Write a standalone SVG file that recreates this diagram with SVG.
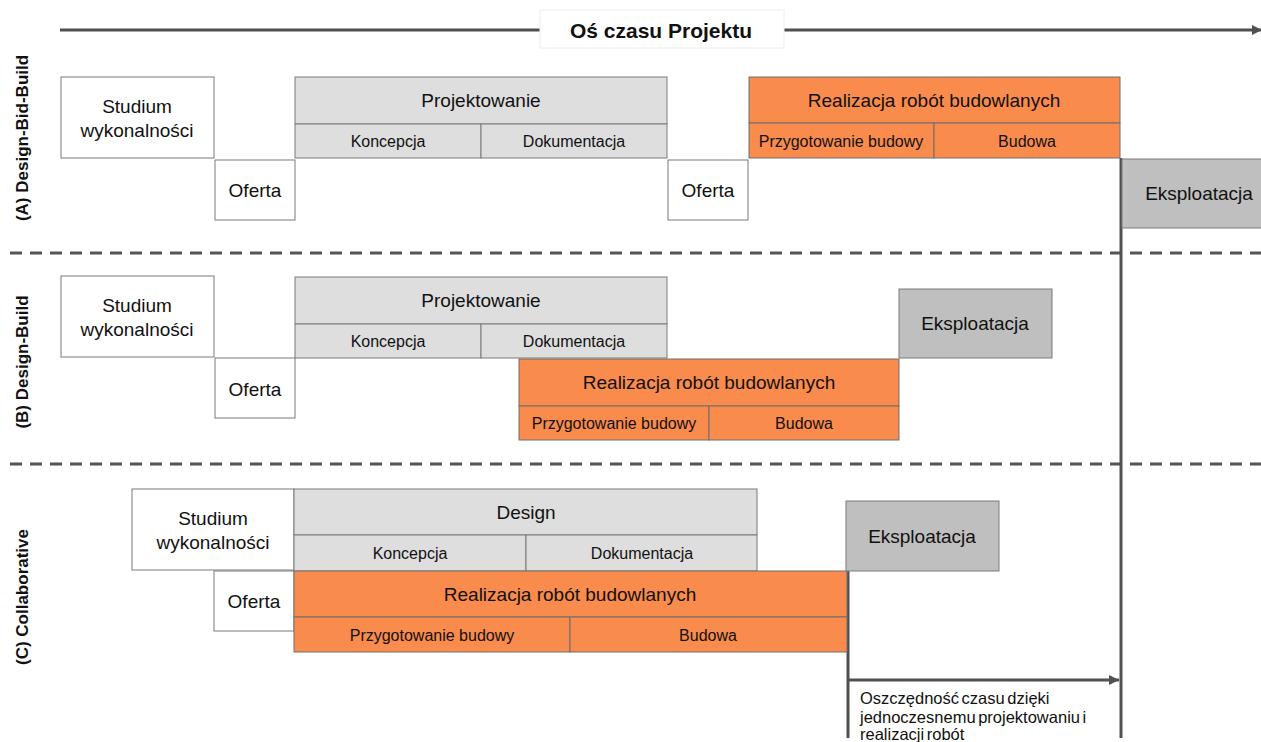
<svg xmlns="http://www.w3.org/2000/svg" width="1261" height="742" viewBox="0 0 1261 742">
<style>
text{font-family:"Liberation Sans",Arial,sans-serif;fill:#111;text-anchor:middle;dominant-baseline:central}
.w{fill:#fff;stroke:#7a7a7a;stroke-width:1}
.g{fill:#dedede;stroke:#7a7a7a;stroke-width:1}
.o{fill:#f98b4c;stroke:#6e6e6e;stroke-width:1}
.e{fill:#bfbfbf;stroke:#7a7a7a;stroke-width:1}
.t17{font-size:19px}
.t14{font-size:16px}
.side{font-size:17px;font-weight:bold}
.note{font-size:16.5px;text-anchor:start;dominant-baseline:auto;word-spacing:-2px}
.dash{stroke:#555;stroke-width:3;stroke-dasharray:12 8;fill:none}
.ln{stroke:#505050;stroke-width:3;fill:none}
</style>
<defs>
<marker id="ah" markerWidth="10" markerHeight="10" refX="10" refY="5" orient="auto" markerUnits="userSpaceOnUse">
<path d="M0,0 L10,5 L0,10 z" fill="#505050"/>
</marker>
</defs>
<rect width="1261" height="742" fill="#fff"/>

<g id="connectors">
<line class="ln" x1="60" y1="30" x2="1262" y2="30" marker-end="url(#ah)"/>
<line class="dash" x1="10" y1="253" x2="1261" y2="253"/>
<line class="dash" x1="10" y1="464" x2="1261" y2="464"/>
<line class="ln" x1="1121" y1="158" x2="1121" y2="738"/>
<line class="ln" x1="848" y1="571" x2="848" y2="738"/>
<line class="ln" x1="848" y1="680" x2="1119" y2="680" marker-end="url(#ah)"/>
</g>

<g id="axis-label">
<rect x="540" y="10" width="244" height="38" fill="#fff" stroke="#eee" stroke-width="1"/>
<text x="661" y="30" style="font-size:21px;font-weight:bold">Oś czasu Projektu</text>
</g>

<g id="side-labels">
<text class="side" transform="translate(22,138) rotate(-90)">(A) Design-Bid-Build</text>
<text class="side" transform="translate(22,362) rotate(-90)">(B) Design-Build</text>
<text class="side" transform="translate(22,597) rotate(-90)">(C) Collaborative</text>
</g>

<!-- Row A -->
<g id="a-studium"><rect class="w" x="61" y="77" width="153" height="81"/><text class="t17" x="137" y="106">Studium</text><text class="t17" x="137" y="130">wykonalności</text></g>
<g id="a-oferta1"><rect class="w" x="215" y="160" width="80" height="60"/><text class="t17" x="255" y="190">Oferta</text></g>
<g id="a-projektowanie"><rect class="g" x="295" y="77" width="372" height="47"/><text class="t17" x="481" y="100">Projektowanie</text>
<rect class="g" x="295" y="124" width="186" height="34"/><text class="t14" x="388" y="141">Koncepcja</text>
<rect class="g" x="481" y="124" width="186" height="34"/><text class="t14" x="574" y="141">Dokumentacja</text></g>
<g id="a-oferta2"><rect class="w" x="668" y="160" width="80" height="60"/><text class="t17" x="708" y="190">Oferta</text></g>
<g id="a-realizacja"><rect class="o" x="749" y="77" width="371" height="46"/><text class="t17" x="934" y="100">Realizacja robót budowlanych</text>
<rect class="o" x="749" y="123" width="185" height="35"/><text class="t14" x="841" y="141">Przygotowanie budowy</text>
<rect class="o" x="934" y="123" width="186" height="35"/><text class="t14" x="1027" y="141">Budowa</text></g>
<g id="a-eksploatacja"><rect class="e" x="1122" y="159" width="145" height="69"/><text class="t17" x="1199" y="193">Eksploatacja</text></g>

<!-- Row B -->
<g id="b-studium"><rect class="w" x="61" y="276" width="153" height="81"/><text class="t17" x="137" y="305">Studium</text><text class="t17" x="137" y="329">wykonalności</text></g>
<g id="b-oferta"><rect class="w" x="215" y="358" width="80" height="60"/><text class="t17" x="255" y="389">Oferta</text></g>
<g id="b-projektowanie"><rect class="g" x="295" y="277" width="372" height="47"/><text class="t17" x="481" y="300">Projektowanie</text>
<rect class="g" x="295" y="324" width="186" height="34"/><text class="t14" x="388" y="341">Koncepcja</text>
<rect class="g" x="481" y="324" width="186" height="34"/><text class="t14" x="574" y="341">Dokumentacja</text></g>
<g id="b-realizacja"><rect class="o" x="519" y="359" width="380" height="47"/><text class="t17" x="709" y="382">Realizacja robót budowlanych</text>
<rect class="o" x="519" y="406" width="190" height="34"/><text class="t14" x="614" y="423">Przygotowanie budowy</text>
<rect class="o" x="709" y="406" width="190" height="34"/><text class="t14" x="804" y="423">Budowa</text></g>
<g id="b-eksploatacja"><rect class="e" x="899" y="289" width="153" height="69"/><text class="t17" x="975" y="323">Eksploatacja</text></g>

<!-- Row C -->
<g id="c-studium"><rect class="w" x="132" y="489" width="162" height="81"/><text class="t17" x="213" y="518">Studium</text><text class="t17" x="213" y="542">wykonalności</text></g>
<g id="c-oferta"><rect class="w" x="214" y="571" width="80" height="60"/><text class="t17" x="254" y="601">Oferta</text></g>
<g id="c-design"><rect class="g" x="294" y="489" width="463" height="46"/><text class="t17" x="526" y="512">Design</text>
<rect class="g" x="294" y="535" width="232" height="36"/><text class="t14" x="410" y="553">Koncepcja</text>
<rect class="g" x="526" y="535" width="231" height="36"/><text class="t14" x="642" y="553">Dokumentacja</text></g>
<g id="c-realizacja"><rect class="o" x="294" y="571" width="553" height="46"/><text class="t17" x="570" y="594">Realizacja robót budowlanych</text>
<rect class="o" x="294" y="617" width="276" height="35"/><text class="t14" x="432" y="635">Przygotowanie budowy</text>
<rect class="o" x="570" y="617" width="277" height="35"/><text class="t14" x="708" y="635">Budowa</text></g>
<g id="c-eksploatacja"><rect class="e" x="846" y="501" width="153" height="70"/><text class="t17" x="922" y="536">Eksploatacja</text></g>

<g id="note">
<text class="note" x="860" y="704">Oszczędność czasu dzięki</text>
<text class="note" x="860" y="723">jednoczesnemu projektowaniu i</text>
<text class="note" x="860" y="740">realizacji robót</text>
</g>
</svg>
